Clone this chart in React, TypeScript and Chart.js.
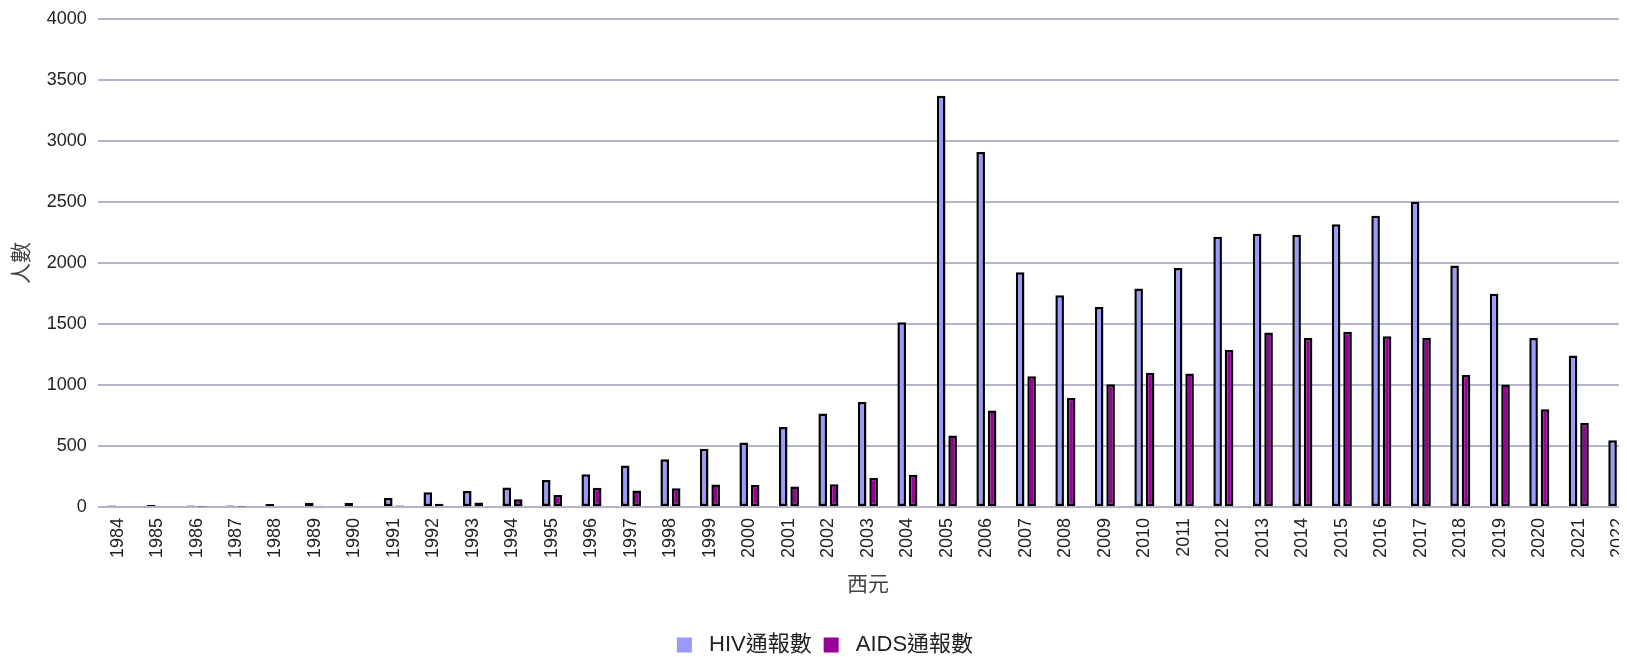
import React, { useEffect, useRef } from 'react';
import { Chart, registerables } from 'chart.js';

Chart.register(...registerables);

const years = [
  1984, 1985, 1986, 1987, 1988, 1989, 1990, 1991, 1992, 1993, 1994, 1995, 1996,
  1997, 1998, 1999, 2000, 2001, 2002, 2003, 2004, 2005, 2006, 2007, 2008, 2009,
  2010, 2011, 2012, 2013, 2014, 2015, 2016, 2017, 2018, 2019, 2020, 2021, 2022,
];

const hivCounts = [
  12, 17, 12, 12, 24, 35, 33, 74, 121, 132, 159, 222, 269,
  340, 391, 477, 528, 655, 766, 860, 1515,
  3370, 2910, 1925, 1735, 1640, 1790, 1960, 2215, 2240, 2232, 2318, 2388, 2503, 1980, 1748, 1385, 1242, 547,
];

const aidsCounts = [
  0, 0, 4, 4, 9, 11, 9, 12, 27, 36, 63, 99, 157,
  136, 153, 185, 180, 168, 187, 238, 264,
  587, 791, 1072, 894, 1007, 1100, 1095, 1287, 1431, 1385, 1437, 1399, 1388, 1081, 1004, 802, 690, 315,
];

const seriesLabels = ['HIV通報數', 'AIDS通報數'];
const xTitle = '西元';
const yTitle = '人數';
const yMin = 0;
const yMax = 4000;
const yStep = 500;

const FONT = "'Liberation Sans', Arial, 'Noto Sans CJK TC', sans-serif";

export default function App() {
  const ref = useRef<HTMLCanvasElement>(null);

  useEffect(() => {
    if (!ref.current) return;
    Chart.defaults.font.family = FONT;
    const chart = new Chart(ref.current, {
      type: 'bar',
      data: {
        labels: years.map(String),
        datasets: [
          {
            label: seriesLabels[0],
            data: hivCounts,
            backgroundColor: '#9999ff',
            borderColor: '#000000',
            borderWidth: 2.5,
            borderSkipped: false,
            categoryPercentage: 0.58,
            barPercentage: 0.75,
          },
          {
            label: seriesLabels[1],
            data: aidsCounts,
            backgroundColor: '#990099',
            borderColor: '#000000',
            borderWidth: 2.5,
            borderSkipped: false,
            categoryPercentage: 0.58,
            barPercentage: 0.75,
          },
        ],
      },
      options: {
        animation: false,
        responsive: true,
        maintainAspectRatio: false,
        layout: { padding: { top: 11, right: 9, left: 0, bottom: 0 } },
        plugins: {
          tooltip: { enabled: false },
          legend: {
            position: 'bottom',
            labels: {
              boxWidth: 15,
              boxHeight: 15,
              padding: 12,
              color: '#222222',
              font: { size: 22, family: FONT },
              generateLabels: (c: any) =>
                Chart.defaults.plugins.legend.labels.generateLabels(c).map((l: any) => ({
                  ...l,
                  text: ' ' + l.text,
                  lineWidth: 0,
                  strokeStyle: 'rgba(0,0,0,0)',
                })),
            },
          },
        },
        scales: {
          x: {
            grid: { display: false, drawTicks: false },
            border: { display: false },
            ticks: {
              minRotation: 90,
              maxRotation: 90,
              autoSkip: false,
              padding: 11,
              color: '#222222',
              font: { size: 18, family: FONT },
            },
            title: {
              display: true,
              text: xTitle,
              color: '#444444',
              font: { size: 21, family: FONT },
              padding: { top: 0, bottom: 24 },
            },
            afterFit: (s: any) => {
              s.height = 115;
            },
          },
          y: {
            min: yMin,
            max: yMax,
            ticks: {
              stepSize: yStep,
              padding: 0,
              color: '#222222',
              font: { size: 18, family: FONT },
              callback: (v: any) => String(v),
            },
            grid: {
              color: '#b4b4cc',
              lineWidth: 2,
              drawTicks: true,
              tickLength: 11,
              tickColor: 'rgba(0,0,0,0)',
            },
            border: { display: false },
            title: {
              display: true,
              text: yTitle,
              color: '#444444',
              font: { size: 21, family: FONT },
              padding: { top: 2, bottom: 0 },
            },
            afterFit: (s: any) => {
              s.width = 89.8;
            },
          },
        },
      },
    });
    return () => chart.destroy();
  }, []);

  return (
    <div style={{ width: 1619, height: 649, overflow: 'hidden' }}>
      <div style={{ position: 'relative', width: 1643, height: 658 }}>
        <canvas ref={ref} />
      </div>
    </div>
  );
}
